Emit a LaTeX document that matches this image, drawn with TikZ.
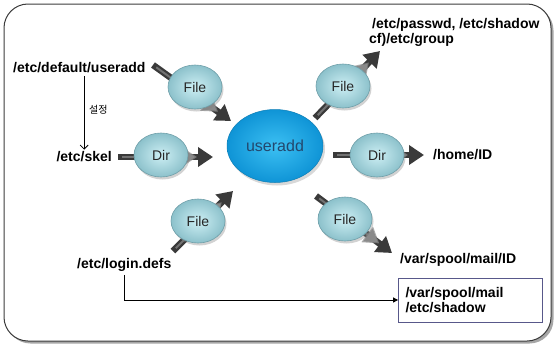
\documentclass[tikz,border=0pt]{standalone}
\usepackage{fontspec}
\setmainfont{Liberation Sans}
\newfontfamily\krfont{Noto Sans CJK KR}
\usetikzlibrary{shapes.geometric,arrows.meta,shadows}

\definecolor{bubbleIn}{HTML}{CDEFF4}
\definecolor{bubbleOut}{HTML}{8CC1CB}
\definecolor{bubbleRim}{HTML}{6F9FA9}
\definecolor{hubIn}{HTML}{3CC0F3}
\definecolor{hubOut}{HTML}{0F94D6}
\definecolor{hubText}{HTML}{23486E}
\definecolor{arrowDark}{HTML}{3A3A3A}
\definecolor{arrowLight}{HTML}{8A8A8A}
\definecolor{boxRim}{HTML}{58588A}
\definecolor{frameGray}{HTML}{3C3C3C}

\pgfdeclarelayer{frame}
\pgfdeclarelayer{back}
\pgfsetlayers{frame,back,main}

\begin{document}
\begin{tikzpicture}[x=1pt,y=-1pt,
  pathtext/.style={font=\bfseries\fontsize{14}{16}\selectfont, inner sep=0pt},
  bubble/.style={ellipse, minimum width=54pt, minimum height=44pt, inner sep=0pt,
    inner color=bubbleIn, outer color=bubbleOut, draw=bubbleRim, line width=0.6pt,
    font=\fontsize{14}{16}\selectfont, text=black!85,
    drop shadow={shadow xshift=1.5pt, shadow yshift=-2.5pt, opacity=0.35}},
  hub/.style={ellipse, minimum width=96pt, minimum height=73pt, inner sep=0pt,
    inner color=hubIn, outer color=hubOut, draw=hubOut!85!black, line width=0.5pt,
    font=\fontsize{16}{18}\selectfont, text=hubText,
    drop shadow={shadow xshift=2pt, shadow yshift=-3pt, opacity=0.3}},
  fatarrow/.style={line width=6.5pt, draw=arrowDark, -{Triangle[width=19pt,length=15pt]},
    postaction={draw=arrowLight, draw opacity=0.7, line width=2pt, shorten >=16pt, shorten <=4pt}},
  thinarrow/.style={line width=0.8pt, draw=black},
]
\useasboundingbox (0,0) rectangle (556,348);

% outer frame with a soft shadow
\begin{pgfonlayer}{frame}
\fill[black!35, rounded corners=24pt] (6.5,6.5) rectangle (553.5,343.5);
\draw[frameGray, line width=1pt, fill=white, rounded corners=24pt] (4,4) rectangle (551,341);
\end{pgfonlayer}

% central program
\node[hub] (hub) at (275,146) {useradd};

% file and directory names
\node[pathtext, anchor=west] (defua) at (13,68) {/etc/default/useradd};
\node[pathtext, anchor=east] (skel) at (112,157) {/etc/skel};
\node[pathtext, anchor=west] (login) at (77,265) {/etc/login.defs};
\node[pathtext, anchor=base west] (passwd) at (372,28) {/etc/passwd, /etc/shadow};
\node[pathtext, anchor=base west] (group) at (369,43) {cf)/etc/group};
\node[pathtext, anchor=west] (home) at (433,155) {/home/ID};
\node[pathtext, anchor=west] (mailid) at (400,260) {/var/spool/mail/ID};
\node[draw=boxRim, line width=0.8pt, fill=white, minimum width=144pt, minimum height=44pt,
      text width=130pt, align=left, inner sep=0pt,
      font=\bfseries\fontsize{14}{15.5}\selectfont] (mailbox) at (470.5,300)
      {/var/spool/mail\\/etc/shadow};

% File / Dir markers sitting on the arrows
\node[bubble] (f1) at (195,87) {File};
\node[bubble] (d1) at (161,155) {Dir};
\node[bubble] (f2) at (198,221) {File};
\node[bubble] (f3) at (343,86) {File};
\node[bubble] (d2) at (377,155) {Dir};
\node[bubble] (f4) at (345,219) {File};

% end points of the thick arrows
\coordinate (a1s) at (153,65);  \coordinate (a1e) at (231,121);
\coordinate (a2s) at (118,157); \coordinate (a2e) at (213,157);
\coordinate (a3s) at (173,251); \coordinate (a3e) at (233,191);
\coordinate (a4s) at (315,118); \coordinate (a4e) at (380,51);
\coordinate (a5s) at (333,155); \coordinate (a5e) at (424,155);
\coordinate (a6s) at (316,196); \coordinate (a6e) at (392,253);

\begin{pgfonlayer}{back}
  \draw[fatarrow] (a1s) -- (a1e);
  \draw[fatarrow] (a2s) -- (a2e);
  \draw[fatarrow] (a3s) -- (a3e);
  \draw[fatarrow] (a4s) -- (a4e);
  \draw[fatarrow] (a5s) -- (a5e);
  \draw[fatarrow] (a6s) -- (a6e);
\end{pgfonlayer}

% default settings feed the skeleton directory
\draw[thinarrow, -{Straight Barb[length=4pt,width=8pt]}]
  ([yshift=-3pt]defua.south -| skel.north) -- ([yshift=2pt]skel.north);
\node[font=\krfont\fontsize{10}{12}\selectfont, anchor=west, inner sep=0pt] (setlabel) at (89,110) {설정};

% login.defs points to the mail spool and shadow entries
\draw[thinarrow, -{Triangle[length=5pt,width=5pt]}]
  ([yshift=-3pt]login.south) |- (mailbox.west);
\end{tikzpicture}
\end{document}
